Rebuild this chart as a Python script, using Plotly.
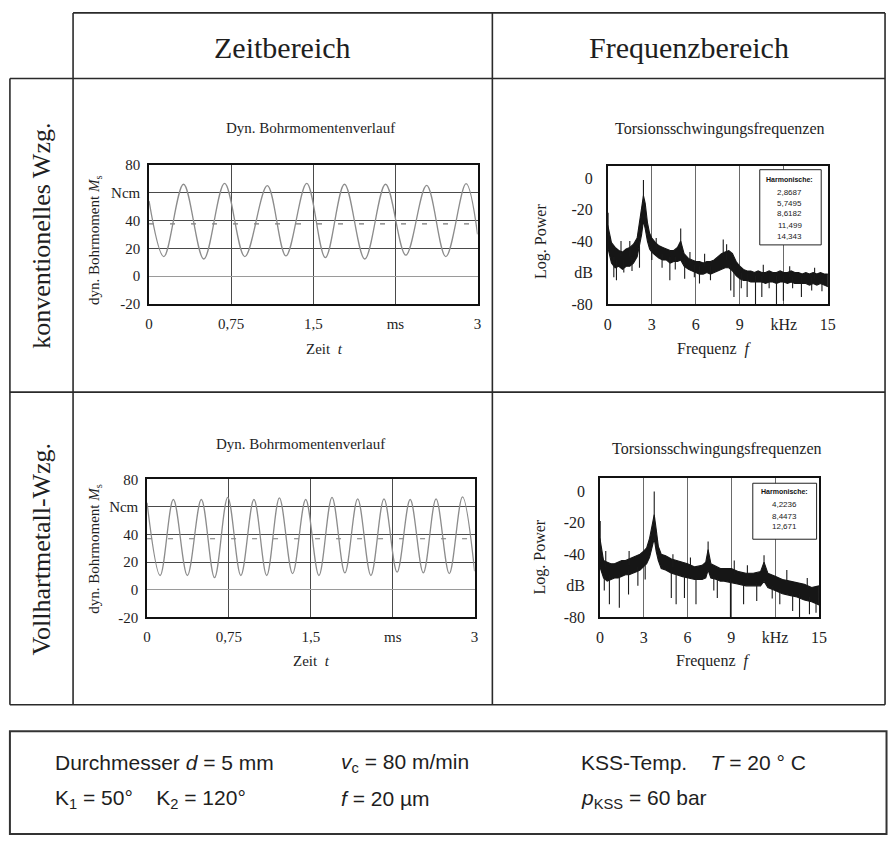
import plotly.graph_objects as go

W, H = 896, 845

# ---------------- data ----------------
# Time domain: dynamic drilling torque, extrema of the oscillation (t in ms, M in Ncm)
TL_t = [0, 0.135, 0.315, 0.50, 0.69, 0.875, 1.08, 1.25, 1.44, 1.61, 1.785, 1.97,
        2.16, 2.345, 2.535, 2.71, 2.895, 3.0]
TL_m = [54, 14, 66, 12.3, 66.7, 14, 65, 14.5, 66.7, 13.3, 66, 12.3,
        66, 15, 65.2, 14, 66.4, 30]
TL_mean = 37.5

BL_t = [0, 0.12, 0.241, 0.369, 0.497, 0.618, 0.739, 0.859, 0.979, 1.096, 1.212, 1.333,
        1.453, 1.574, 1.694, 1.812, 1.929, 2.05, 2.17, 2.29, 2.41, 2.53, 2.647, 2.768,
        2.889, 3.0]
BL_m = [63, 10.4, 65.4, 10.4, 65.4, 8.8, 67, 10.4, 65.4, 10.4, 66.6, 11.8,
        65.4, 10.4, 67, 12.3, 65.8, 10.4, 65.8, 12.8, 65.4, 12.3, 65.8, 11.8,
        67.3, 13.5]
BL_mean = 37

# Frequency domain: log power band (upper / lower edge of the noisy trace, dB)
TR_f = [0, 0.25, 0.5, 0.75, 1.0, 1.25, 1.5, 1.75, 2.0, 2.15, 2.3, 2.43, 2.55, 2.7, 2.85,
        3.0, 3.25, 3.5, 3.75, 4.0, 4.25, 4.5, 4.75, 4.97, 5.2, 5.5, 5.75, 6.0, 6.25, 6.5,
        6.75, 7.0, 7.25, 7.5, 7.75, 8.0, 8.25, 8.5, 8.75, 9.0, 9.25, 9.5, 9.75, 10.0,
        10.25, 10.5, 10.75, 11.0, 11.25, 11.5, 11.75, 12.0, 12.25, 12.5, 12.75, 13.0,
        13.25, 13.5, 13.75, 14.0, 14.25, 14.5, 14.75, 15.0]
TR_up = [-30, -41, -44, -46, -47, -45, -44, -42, -38, -29, -18, -11, -16, -28, -35,
         -38, -41, -43, -44, -45, -46, -46, -44, -40, -48, -51, -52, -53, -53, -54,
         -53, -53, -52, -50, -48, -47, -46, -48, -53, -56, -58, -59, -59, -60,
         -59, -60, -60, -59, -60, -60, -59, -60, -60, -59, -60, -60,
         -61, -60, -61, -60, -61, -60, -61, -61]
TR_lo = [-44, -54, -57, -56, -58, -56, -56, -54, -50, -44, -36, -27, -32, -40, -45,
         -47, -49, -51, -52, -52, -54, -53, -53, -52, -56, -58, -59, -60, -61, -61,
         -60, -61, -60, -59, -58, -57, -57, -59, -62, -64, -65, -65, -66, -66,
         -66, -66, -67, -66, -66, -67, -66, -66, -67, -66, -67, -67,
         -67, -67, -68, -67, -68, -67, -68, -69]
# spikes (frequency, from dB, to dB)
TR_spikes = [(0.02, -45, -22), (2.43, -20, -1), (4.97, -45, -32), (7.87, -50, -39),
             (0.9, -50, -40), (1.5, -50, -40), (3.3, -45, -38), (6.6, -56, -48),
             (8.1, -52, -42), (12.4, -63, -56), (5.6, -55, -47), (10.6, -62, -55),
             (14.1, -64, -57),
             (0.41, -50, -63), (0.59, -52, -65), (1.09, -52, -60), (1.65, -50, -59),
             (2.16, -40, -57), (3.7, -48, -57), (4.23, -50, -65), (5.24, -52, -64),
             (5.9, -55, -63), (6.25, -56, -67), (7.0, -56, -65), (8.38, -55, -71.5),
             (8.6, -57, -75.6), (9.5, -61, -75.6), (10.07, -62, -80), (10.5, -62, -75.6),
             (11.0, -62, -70), (11.5, -62, -80), (11.97, -62, -78), (12.6, -63, -70),
             (13.2, -63, -75.6), (13.9, -63, -71.5), (14.6, -64, -72), (9.1, -60, -70),
             (4.6, -50, -58), (3.0, -44, -52)]
TR_harm = ["2,8687", "5,7495", "8,6182", "11,499", "14,343"]

BR_f = [0, 0.25, 0.5, 0.75, 1.0, 1.25, 1.5, 1.75, 2.0, 2.25, 2.5, 2.75, 3.0, 3.2, 3.4,
        3.58, 3.72, 3.85, 4.0, 4.2, 4.5, 4.9, 5.25, 5.6, 6.0, 6.5, 7.0, 7.25, 7.41, 7.6,
        8.0, 8.25, 8.5, 9.0, 9.5, 10.0, 10.5, 11.0, 11.24, 11.5, 12.0, 12.5, 13.0, 13.5,
        14.0, 14.5, 15.0]
BR_up = [-30, -44, -45, -46, -46, -45, -44, -44, -43, -42, -41, -40, -38, -36, -30,
         -20, -15, -24, -35, -40, -41, -43, -44, -45, -46, -48, -47, -45, -37, -46,
         -48, -49, -49, -49, -51, -52, -52, -51, -45, -52, -54, -56, -57, -58,
         -59, -61, -60]
BR_lo = [-48, -55, -57, -56, -55, -55, -54, -53, -53, -52, -51, -50, -48, -46, -42,
         -36, -30, -38, -44, -49, -50, -52, -53, -54, -55, -56, -56, -55, -50, -55,
         -56, -57, -57, -58, -59, -60, -60, -60, -57, -61, -63, -65, -66, -67,
         -69, -70, -72]
BR_spikes = [(0.02, -45, -19), (3.72, -25, -0.3), (7.41, -45, -32), (11.24, -50, -40.6),
             (0.4, -48, -38), (2.0, -47, -38), (5.0, -48, -40), (6.2, -50, -42),
             (9.2, -53, -44), (10.1, -55, -47), (12.8, -58, -50), (14.2, -62, -55),
             (0.65, -53, -71.7), (1.33, -53, -73.8), (1.96, -50, -65.5), (2.6, -48, -60),
             (4.89, -50, -67.6), (5.22, -52, -71.7), (5.79, -53, -67.6), (6.58, -55, -71.7),
             (8.04, -55, -67.6), (8.94, -56, -80), (9.84, -58, -71.7), (10.74, -58, -69.6),
             (12.32, -62, -71.7), (13.2, -64, -75.9), (13.67, -65, -80), (14.35, -67, -78),
             (0.3, -53, -63), (3.1, -47, -56), (7.8, -54, -63), (11.8, -60, -68),
             (14.8, -69, -77)]
BR_harm = ["4,2236", "8,4473", "12,671"]

# tick labels
T_tickvals = [0, 0.75, 1.5, 2.25, 3]
T_ticktext = ["0", "0,75", "1,5", "ms", "3"]
M_tickvals = [-20, 0, 20, 40, 60, 80]
M_ticktext = ["-20", "0", "20", "40", "Ncm", "80"]
F_tickvals = [0, 3, 6, 9, 12, 15]
F_ticktext = ["0", "3", "6", "9", "kHz", "15"]
P_tickvals = [-80, -60, -40, -20, 0]
P_ticktext = ["-80", "dB", "-40", "-20", "0"]

# ---------------- helpers ----------------
def X(px):
    return px / W

def Y(py):
    return 1 - py / H

SERIF = "Liberation Serif, Times New Roman, serif"
SANS = "Liberation Sans, Arial, sans-serif"
INK = "#1e1e1e"

fig = go.Figure()

# time-domain traces
for t, m, mean, xa, ya in [(TL_t, TL_m, TL_mean, "x", "y"), (BL_t, BL_m, BL_mean, "x3", "y3")]:
    fig.add_trace(go.Scatter(x=[0, 3], y=[mean, mean], mode="lines", xaxis=xa, yaxis=ya,
                             line=dict(color="#777", width=1.2, dash="5px,16px"),
                             showlegend=False, hoverinfo="skip"))
    fig.add_trace(go.Scatter(x=t, y=m, mode="lines", xaxis=xa, yaxis=ya,
                             line=dict(color="#8c8c8c", width=1.3, shape="spline", smoothing=1.0),
                             showlegend=False))

# frequency-domain traces
for f, up, lo, spikes, xa, ya in [(TR_f, TR_up, TR_lo, TR_spikes, "x2", "y2"),
                                  (BR_f, BR_up, BR_lo, BR_spikes, "x4", "y4")]:
    fig.add_trace(go.Scatter(x=f + f[::-1], y=up + lo[::-1], mode="lines", fill="toself",
                             fillcolor="#161616", xaxis=xa, yaxis=ya,
                             line=dict(color="#161616", width=1.1),
                             showlegend=False, hoverinfo="skip"))
    sx, sy = [], []
    for fr, a, b in spikes:
        sx += [fr, fr, None]
        sy += [a, b, None]
    fig.add_trace(go.Scatter(x=sx, y=sy, mode="lines", xaxis=xa, yaxis=ya,
                             line=dict(color="#1a1a1a", width=1.1),
                             showlegend=False, hoverinfo="skip"))

tickfont = dict(family=SERIF, size=15, color=INK)

def left_axes(xdom, ydom, anchor_x, anchor_y):
    xa = dict(domain=xdom, anchor=anchor_y, range=[0, 3], tickvals=T_tickvals, ticktext=T_ticktext,
              showgrid=True, gridcolor="#4a4a4a", gridwidth=1, zeroline=False,
              showline=True, mirror=True, linecolor="#111", linewidth=1.5,
              ticks="", tickfont=tickfont, ticklabelstandoff=5, fixedrange=True)
    ya = dict(domain=ydom, anchor=anchor_x, range=[-20, 80], tickvals=M_tickvals, ticktext=M_ticktext,
              showgrid=True, gridcolor="#4a4a4a", gridwidth=1, zeroline=True,
              zerolinecolor="#9a9a9a", zerolinewidth=1,
              showline=True, mirror=True, linecolor="#111", linewidth=1.5,
              ticks="", tickfont=tickfont, ticklabelstandoff=4, fixedrange=True)
    return xa, ya

def right_axes(xdom, ydom, anchor_x, anchor_y):
    xa = dict(domain=xdom, anchor=anchor_y, range=[0, 15], tickvals=F_tickvals, ticktext=F_ticktext,
              showgrid=True, gridcolor="#6a6a6a", gridwidth=1, zeroline=False,
              showline=True, mirror=True, linecolor="#111", linewidth=1.5,
              ticks="", tickfont=dict(family=SERIF, size=16, color=INK),
              ticklabelstandoff=5, fixedrange=True)
    ya = dict(domain=ydom, anchor=anchor_x, range=[-80, 8], tickvals=P_tickvals, ticktext=P_ticktext,
              showgrid=False, zeroline=False,
              showline=True, mirror=True, linecolor="#111", linewidth=1.5,
              ticks="", tickfont=dict(family=SERIF, size=16, color=INK),
              ticklabelstandoff=10, fixedrange=True)
    return xa, ya

x1, y1 = left_axes([X(147), X(480)], [Y(302), Y(160)], "x", "y")
x3, y3 = left_axes([X(145), X(477)], [Y(622), Y(481)], "x3", "y3")
x2, y2 = right_axes([X(612), X(835)], [Y(302), Y(161)], "x2", "y2")
x4, y4 = right_axes([X(604), X(826)], [Y(622), Y(480)], "x4", "y4")

shapes = []
LC = "#2a2a2a"

def hline(x0, x1_, y, w=1.6, c=LC):
    shapes.append(dict(type="line", xref="paper", yref="paper", x0=X(x0), x1=X(x1_), y0=Y(y), y1=Y(y),
                       line=dict(color=c, width=w)))

def vline(x, y0, y1_, w=1.6, c=LC):
    shapes.append(dict(type="line", xref="paper", yref="paper", x0=X(x), x1=X(x), y0=Y(y0), y1=Y(y1_),
                       line=dict(color=c, width=w)))

hline(70, 893, 5)
hline(6, 893, 72)
hline(6, 893, 392)
hline(6, 893, 711)
vline(6, 72, 711)
vline(70, 5, 711)
vline(495, 5, 711)
vline(893, 5, 711)
shapes.append(dict(type="rect", xref="paper", yref="paper", x0=X(6), x1=X(894.5), y0=Y(843), y1=Y(738),
                   line=dict(color="#333", width=2)))

# "Harmonische" boxes
shapes.append(dict(type="rect", xref="x2", yref="y2", x0=10.36, x1=14.55, y0=-42.4, y1=5.5,
                   line=dict(color="#222", width=1), fillcolor="white"))
shapes.append(dict(type="rect", xref="x4", yref="y4", x0=10.47, x1=14.84, y0=-30.5, y1=4.9,
                   line=dict(color="#222", width=1), fillcolor="white"))

ann = []

def text(s, x, y, size, family=SERIF, angle=0, xanchor="center", color=INK):
    ann.append(dict(text=s, x=X(x), y=Y(y), xref="paper", yref="paper", showarrow=False,
                    xanchor=xanchor, yanchor="middle", textangle=angle,
                    font=dict(family=family, size=size, color=color)))

# header / row labels
text("Zeitbereich", 282, 40, 30)
text("Frequenzbereich", 694, 40, 30)
text("konventionelles Wzg.", 38, 232, 26, angle=-90)
text("Vollhartmetall-Wzg.", 38, 552, 26, angle=-90)

# subplot titles and axis titles
text("Dyn. Bohrmomentenverlauf", 311, 122, 15)
text("Dyn. Bohrmomentenverlauf", 301, 445, 15)
text("Torsionsschwingungsfrequenzen", 726, 123, 16)
text("Torsionsschwingungsfrequenzen", 723, 450, 16)
text("Zeit  <i>t</i>", 325, 348, 15)
text("Zeit  <i>t</i>", 312, 666, 15)
text("Frequenz  <i>f</i>", 720, 348, 16)
text("Frequenz  <i>f</i>", 719, 666, 16)
text("dyn. Bohrmoment <i>M</i><sub>s</sub>", 92, 237, 15, angle=-90)
text("dyn. Bohrmoment <i>M</i><sub>s</sub>", 92, 552, 15, angle=-90)
text("Log. Power", 545, 238, 16, angle=-90)
text("Log. Power", 543, 560, 16, angle=-90)

# harmonics text (axis coordinates)
def harm(xa, ya, xc, ys, vals, yhead):
    ann.append(dict(text="<b>Harmonische:</b>", x=xc, y=yhead, xref=xa, yref=ya, showarrow=False,
                    font=dict(family=SANS, size=7, color="#111")))
    for v, yy in zip(vals, ys):
        ann.append(dict(text=v, x=xc, y=yy, xref=xa, yref=ya, showarrow=False,
                        font=dict(family=SANS, size=8, color="#222")))

harm("x2", "y2", 12.42, [-9, -15.8, -22.6, -30, -37.2], TR_harm, -0.5)
harm("x4", "y4", 12.66, [-8.7, -16, -22.5], BR_harm, -0.5)

# parameter box
NB = "\u00a0"
PS = 21
text("Durchmesser <i>d</i> = 5 mm", 50, 770, PS, family=SANS, xanchor="left")
text("<i>v</i><sub>c</sub> = 80 m/min", 340, 770, PS, family=SANS, xanchor="left")
text("KSS-Temp." + NB * 4 + "<i>T</i> = 20 ° C", 583, 770, PS, family=SANS, xanchor="left")
text("\u039a<sub>1</sub> = 50°" + NB * 4 + "\u039a<sub>2</sub> = 120°", 50, 807, PS, family=SANS, xanchor="left")
text("<i>f</i> = 20 µm", 340, 807, PS, family=SANS, xanchor="left")
text("<i>p</i><sub>KSS</sub> = 60 bar", 583, 807, PS, family=SANS, xanchor="left")

fig.update_layout(
    width=W, height=H, autosize=False,
    margin=dict(l=0, r=0, t=0, b=0),
    paper_bgcolor="white", plot_bgcolor="white",
    xaxis=x1, yaxis=y1, xaxis2=x2, yaxis2=y2, xaxis3=x3, yaxis3=y3, xaxis4=x4, yaxis4=y4,
    shapes=shapes, annotations=ann, showlegend=False,
)

fig.write_html(
    "out.html",
    config={"displayModeBar": False, "responsive": False},
    post_script=(
        "document.body.style.margin='0';document.body.style.padding='0';"
        "document.documentElement.style.overflow='hidden';"
        "var d=document.getElementById('{plot_id}');"
        "d.style.position='fixed';d.style.left='0px';d.style.top='0px';"
    ),
)
